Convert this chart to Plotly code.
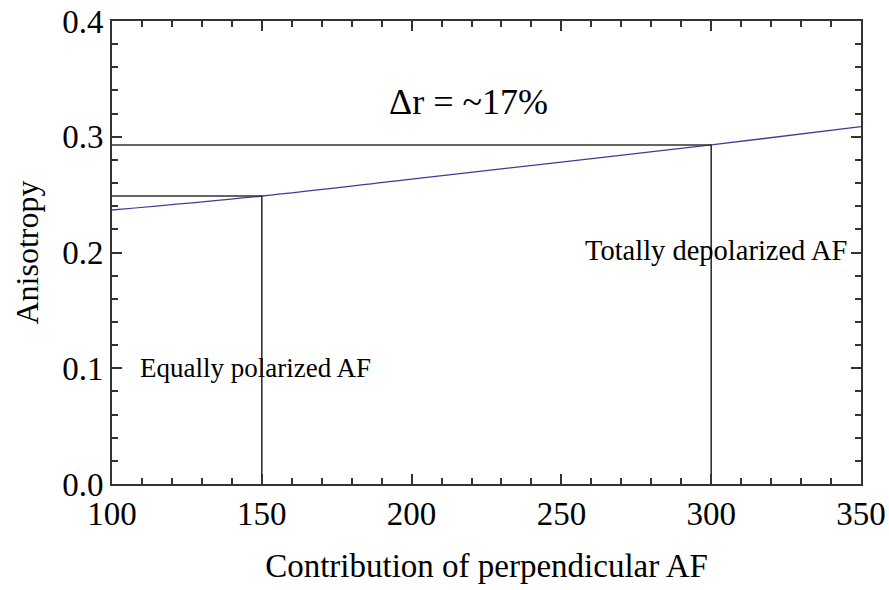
import plotly.graph_objects as go

# Data
x_vals = [100, 150, 200, 250, 300, 350]
r_vals = [0.2367, 0.2488, 0.2634, 0.2781, 0.2929, 0.3087]

# Reference points (equally polarized, totally depolarized)
ref_x = [150, 300]
ref_r = [0.2488, 0.2929]

x_ticks = [100, 150, 200, 250, 300, 350]
y_ticks = [0.0, 0.1, 0.2, 0.3, 0.4]
y_tick_text = ["0.0", "0.1", "0.2", "0.3", "0.4"]

FONT = "Liberation Serif, Times New Roman, serif"
LINE_COL = "#333333"

fig = go.Figure()

fig.add_trace(go.Scatter(x=x_vals, y=r_vals, mode="lines", line=dict(color="#3d3d99", width=1.3, shape="spline"),
                         showlegend=False, hoverinfo="skip"))

for xv, rv in zip(ref_x, ref_r):
    fig.add_trace(go.Scatter(x=[x_ticks[0], xv, xv], y=[rv, rv, y_ticks[0]], mode="lines",
                             line=dict(color=LINE_COL, width=1.6), showlegend=False, hoverinfo="skip"))

fig.add_annotation(x=219, y=0.330, text="Δr = ~17%", showarrow=False,
                   font=dict(family=FONT, size=36, color="black"))
fig.add_annotation(x=148, y=0.100, text="Equally polarized AF", showarrow=False,
                   font=dict(family=FONT, size=27, color="black"))
fig.add_annotation(x=301.5, y=0.202, text="Totally depolarized AF", showarrow=False,
                   font=dict(family=FONT, size=28.5, color="black"))

axis_common = dict(showline=True, linecolor=LINE_COL, linewidth=2, mirror="allticks",
                   ticks="inside", tickcolor=LINE_COL, tickwidth=1.6, ticklen=10,
                   showgrid=False, zeroline=False, automargin=False,
                   tickfont=dict(family=FONT, size=33, color="black"))

fig.update_xaxes(range=[100, 350], tickvals=x_ticks, **axis_common,
                 minor=dict(ticks="inside", ticklen=6, tickcolor=LINE_COL, tickwidth=1.6, dtick=10, showgrid=False),
                 title=dict(text="Contribution of perpendicular AF", font=dict(family=FONT, size=33, color="black"),
                            standoff=23),
                 ticklabelstandoff=-1)
fig.update_yaxes(range=[0, 0.4], tickvals=y_ticks, ticktext=y_tick_text, **axis_common,
                 minor=dict(ticks="inside", ticklen=6, tickcolor=LINE_COL, tickwidth=1.6, dtick=0.02, showgrid=False),
                 title=dict(text="Anisotropy", font=dict(family=FONT, size=32, color="black"), standoff=14),
                 ticklabelstandoff=0)

fig.update_layout(width=889, height=590, margin=dict(l=112, r=28, t=21, b=106),
                  plot_bgcolor="white", paper_bgcolor="white")

fig.write_html("out.html")
